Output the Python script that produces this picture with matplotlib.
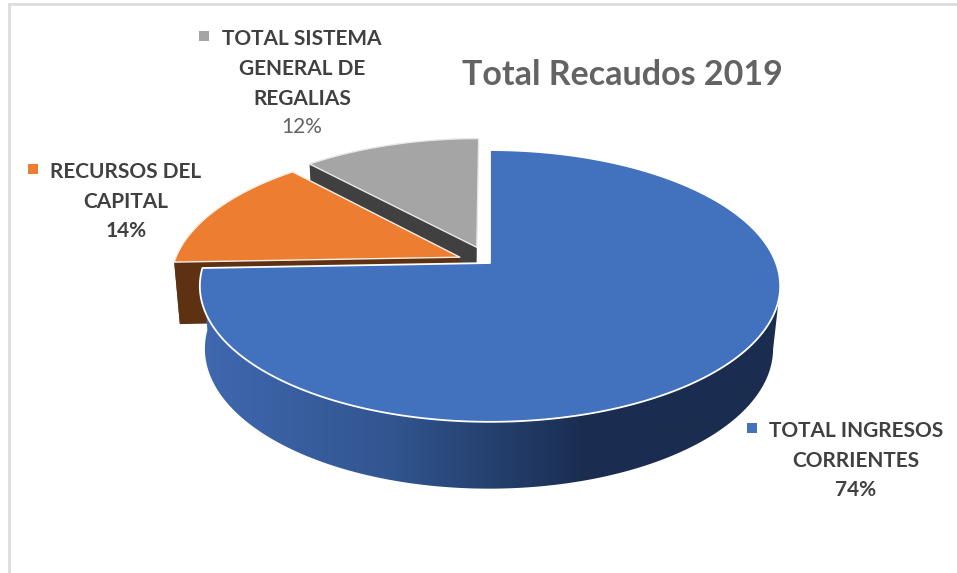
import numpy as np
import matplotlib
matplotlib.use('Agg')
import matplotlib.pyplot as plt
from matplotlib.colors import LinearSegmentedColormap
from matplotlib.patches import Polygon, Rectangle

plt.rcParams['font.family'] = ['Lato', 'DejaVu Sans']

title = 'Total Recaudos 2019'
names = ['TOTAL INGRESOS\nCORRIENTES', 'RECURSOS DEL\nCAPITAL', 'TOTAL SISTEMA\nGENERAL DE\nREGALIAS']
shares = [74.4, 13.8, 11.8]
top_colors = ['#4271be', '#ed7d31', '#a5a5a5']
wall_colors = ['#1a2d50', '#5f3113', '#404040']
explode = [0, 0.115, 0.13]

# pixel layout of the fake 3d pie, top and bottom face
TOP = dict(cx=490, cy=263, a=286, b=132)
BOT = dict(cx=489, cy=325, a=280, b=136)
K = 0.169  # perspective

def project(face, ang, r=1.0, off=(0, 0)):
    # ang is degrees clockwise from 12 o'clock
    t = np.radians(ang)
    u = r * np.sin(t) + off[0]
    v = r * np.cos(t) + off[1]
    w = 1 + K * v
    return np.column_stack((face['cx'] + face['a'] * u / w, face['cy'] - face['b'] * v / w))

fig = plt.figure(figsize=(9.57, 5.73), dpi=100)
ax = fig.add_axes([0, 0, 1, 1])
ax.set_xlim(0, 957)
ax.set_ylim(573, 0)
ax.axis('off')

ax.add_patch(Rectangle((9, 4), 960, 600, fc='white', ec='#dcdcdc', lw=2))

edges = np.concatenate(([0], np.cumsum(shares))) * 360.0 / sum(shares)
slices = []
for i in range(len(shares)):
    mid = np.radians((edges[i] + edges[i + 1]) / 2)
    off = (explode[i] * np.sin(mid), explode[i] * np.cos(mid))
    slices.append((edges[i], edges[i + 1], off))

def top_face(i):
    a0, a1, off = slices[i]
    arc = project(TOP, np.linspace(a0, a1, 200), off=off)
    apex = project(TOP, np.array([a0]), r=0, off=off)
    return np.vstack((apex, arc))

def radial_wall(ang, off):
    a = np.array([ang])
    return np.vstack((project(TOP, a, r=0, off=off), project(TOP, a, off=off),
                      project(BOT, a, off=off), project(BOT, a, r=0, off=off)))

def outer_wall(a0, a1, off):
    angs = np.linspace(a0, a1, 300)
    return np.vstack((project(TOP, angs, off=off), project(BOT, angs[::-1], off=off)))

# grey slice, back to front
a0, a1, off = slices[2]
ax.add_patch(Polygon(radial_wall(a0, off), fc=wall_colors[2], ec='none', zorder=2))
ax.add_patch(Polygon(top_face(2), fc=top_colors[2], ec='#e8e8e8', lw=1, joinstyle='round', zorder=3))

# orange slice
a0, a1, off = slices[1]
ax.add_patch(Polygon(radial_wall(a0, off), fc=wall_colors[1], ec='none', zorder=4))
ax.add_patch(Polygon(outer_wall(a0, a0 + 6, off), fc=wall_colors[1], ec='none', zorder=4))
ax.add_patch(Polygon(top_face(1), fc=top_colors[1], ec='#f6efe8', lw=1, joinstyle='round', zorder=5))

# blue slice, wall has a left to right gradient
a0, a1, off = slices[0]
wall = Polygon(outer_wall(100, a1, off), fc='none', ec='none', zorder=6)
ax.add_patch(wall)
grad = LinearSegmentedColormap.from_list('wall', ['#4068b0', '#31558f', '#1a2d50', '#1a2d50'])
im = ax.imshow(np.linspace(0, 1, 256)[None, :], cmap=grad, aspect='auto',
               extent=(200, 780, 500, 260), zorder=6)
im.set_clip_path(wall)
ax.set_xlim(0, 957)
ax.set_ylim(573, 0)
ax.add_patch(Polygon(top_face(0), fc=top_colors[0], ec='white', lw=1.3, joinstyle='round', zorder=7))

# labels
ax.text(622, 75, title, ha='center', va='center', fontsize=24.5, fontweight='bold', color='#636363', zorder=8)

lab_pos = [(856, 446), (126, 187), (302, 69)]
key_pos = [(752, 428), (33, 169), (204, 36)]
pct_pos = [(856, 490), (126, 231), (302, 127)]
pct_weight = ['bold', 'bold', 'normal']
pct_color = ['#404040', '#404040', '#636363']
for i in range(len(shares)):
    ax.text(lab_pos[i][0], lab_pos[i][1], names[i], ha='center', va='center', fontsize=15,
            fontweight='bold', color='#404040', linespacing=1.6, zorder=8)
    ax.text(pct_pos[i][0], pct_pos[i][1], '%d%%' % round(shares[i]), ha='center', va='center', fontsize=15,
            fontweight=pct_weight[i], color=pct_color[i], zorder=8)
    ax.scatter(*key_pos[i], marker='s', s=42, color=top_colors[i], linewidths=0, zorder=8)

fig.savefig('out.png', dpi=100)
